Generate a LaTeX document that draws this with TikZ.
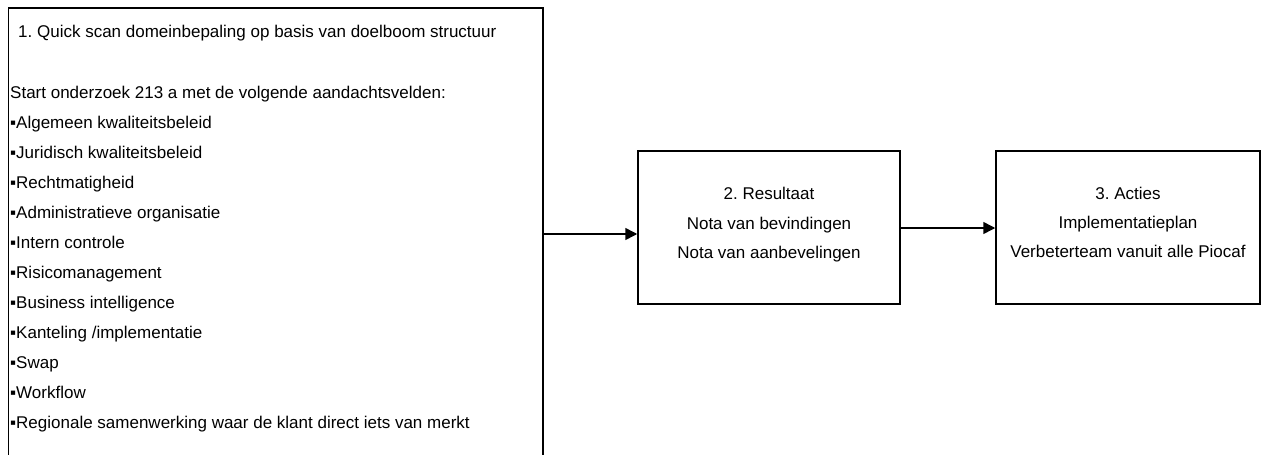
\documentclass[tikz,border=0pt]{standalone}
\usepackage{fontspec}
\setmainfont{Liberation Sans}
\usetikzlibrary{arrows.meta}
\begin{document}
\frenchspacing
\begin{tikzpicture}[x=1pt,y=-1pt,
  box/.style={draw=black,line width=1.5pt,fill=white,inner sep=0pt},
  txt/.style={inner sep=0pt,font=\fontsize{17}{20}\selectfont\frenchspacing},
  conn/.style={line width=1.5pt,-{Triangle[length=12pt,width=12pt]}}]
\useasboundingbox (0,0) rectangle (1262,455);
% boxes
\node[box,minimum width=534.5pt,minimum height=472pt] (b1) at (275.75,244) {};
\node[box,minimum width=262pt,minimum height=153pt] (b2) at (769,227.5) {};
\node[box,minimum width=264pt,minimum height=153pt] (b3) at (1128,227.5) {};
% box 1 text
\node[txt,anchor=base west] (t0) at (18,37) {1. Quick scan domeinbepaling op basis van doelboom structuur};
\node[txt,anchor=base west] (t1) at (10,98) {Start onderzoek 213 a met de volgende aandachtsvelden:};
\node[txt,anchor=base west] (t2) at (10,128) {▪Algemeen kwaliteitsbeleid};
\node[txt,anchor=base west] (t3) at (10,158) {▪Juridisch kwaliteitsbeleid};
\node[txt,anchor=base west] (t4) at (10,188) {▪Rechtmatigheid};
\node[txt,anchor=base west] (t5) at (10,218) {▪Administratieve organisatie};
\node[txt,anchor=base west] (t6) at (10,248) {▪Intern controle};
\node[txt,anchor=base west] (t7) at (10,278) {▪Risicomanagement};
\node[txt,anchor=base west] (t8) at (10,308) {▪Business intelligence};
\node[txt,anchor=base west] (t9) at (10,338) {▪Kanteling /implementatie};
\node[txt,anchor=base west] (t10) at (10,368) {▪Swap};
\node[txt,anchor=base west] (t11) at (10,398) {▪Workflow};
\node[txt,anchor=base west] (t12) at (10,428) {▪Regionale samenwerking waar de klant direct iets van merkt};
% box 2 text
\node[txt,anchor=base] (r1) at (769,199) {2. Resultaat};
\node[txt,anchor=base] (r2) at (769,229) {Nota van bevindingen};
\node[txt,anchor=base] (r3) at (769,258) {Nota van aanbevelingen};
% box 3 text
\node[txt,anchor=base] (s1) at (1128,199) {3. Acties};
\node[txt,anchor=base] (s2) at (1128,228) {Implementatieplan};
\node[txt,anchor=base] (s3) at (1128,257) {Verbeterteam vanuit alle Piocaf};
% connectors
\coordinate (a1) at (0,234);
\coordinate (a2) at (0,228);
\draw[conn] (b1.east |- a1) -- (b2.west |- a1);
\draw[conn] (b2.east |- a2) -- (b3.west |- a2);
\end{tikzpicture}
\end{document}
